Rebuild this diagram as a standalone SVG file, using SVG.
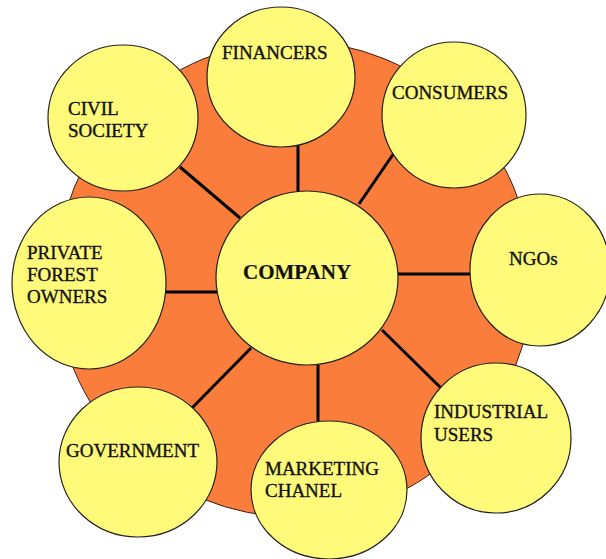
<svg xmlns="http://www.w3.org/2000/svg" width="606" height="559" viewBox="0 0 606 559">
  <style>
    .hub { fill: #FA7D3C; stroke: #3a2010; stroke-width: 1; }
    .node { fill: #FFFA7A; stroke: #222; stroke-width: 1.2; }
    .link { stroke: #000; stroke-width: 3; fill: none; }
    .label { font-family: "Liberation Serif", "Times New Roman", serif; font-size: 19px; fill: #111; stroke: #111; stroke-width: 0.35; }
    .main { font-size: 21px; font-weight: bold; stroke-width: 0.2; }
  </style>
  <rect width="606" height="559" fill="#fff"/>

  <!-- background disc -->
  <circle class="hub" cx="294" cy="279" r="238"/>

  <!-- spokes -->
  <g id="connectors">
    <line class="link" x1="298" y1="146" x2="298" y2="192"/>
    <line class="link" x1="180" y1="167" x2="240" y2="218"/>
    <line class="link" x1="394" y1="153" x2="359" y2="204"/>
    <line class="link" x1="398" y1="274" x2="470" y2="274"/>
    <line class="link" x1="165" y1="292" x2="218" y2="292"/>
    <line class="link" x1="251" y1="348" x2="192" y2="408"/>
    <line class="link" x1="318" y1="365" x2="318" y2="421"/>
    <line class="link" x1="382" y1="330" x2="441" y2="388"/>
  </g>

  <g id="financers">
    <ellipse class="node" cx="281" cy="77" rx="74" ry="70"/>
    <text class="label" x="222" y="59">FINANCERS</text>
  </g>
  <g id="civil-society">
    <ellipse class="node" cx="123" cy="118" rx="75" ry="73"/>
    <text class="label" x="68" y="115">CIVIL</text>
    <text class="label" x="68" y="137">SOCIETY</text>
  </g>
  <g id="consumers">
    <ellipse class="node" cx="454" cy="115" rx="72" ry="73"/>
    <text class="label" x="392" y="99">CONSUMERS</text>
  </g>
  <g id="private-forest-owners">
    <ellipse class="node" cx="89" cy="283" rx="77" ry="86"/>
    <text class="label" x="27" y="259">PRIVATE</text>
    <text class="label" x="27" y="281">FOREST</text>
    <text class="label" x="27" y="303">OWNERS</text>
  </g>
  <g id="company">
    <ellipse class="node" cx="307" cy="278" rx="91" ry="87"/>
    <text class="label main" x="243" y="279">COMPANY</text>
  </g>
  <g id="ngos">
    <ellipse class="node" cx="540" cy="270" rx="70" ry="76"/>
    <text class="label" x="509" y="265">NGOs</text>
  </g>
  <g id="industrial-users">
    <ellipse class="node" cx="496" cy="438" rx="75" ry="75"/>
    <text class="label" x="434" y="418">INDUSTRIAL</text>
    <text class="label" x="434" y="441">USERS</text>
  </g>
  <g id="marketing-chanel">
    <ellipse class="node" cx="329" cy="490" rx="78" ry="69"/>
    <text class="label" x="265" y="475">MARKETING</text>
    <text class="label" x="265" y="497">CHANEL</text>
  </g>
  <g id="government">
    <ellipse class="node" cx="138" cy="462" rx="79" ry="75"/>
    <text class="label" x="66" y="457">GOVERNMENT</text>
  </g>
</svg>
